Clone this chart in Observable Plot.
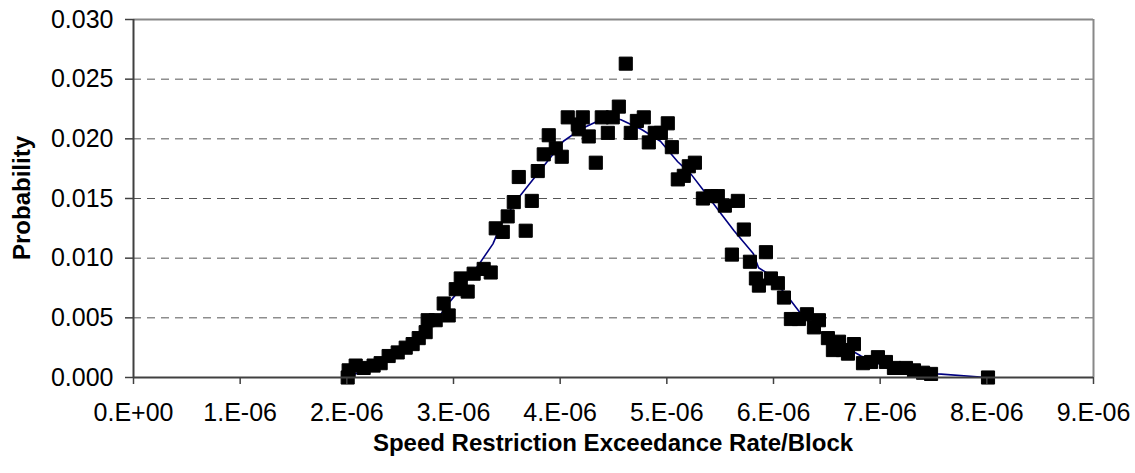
<!DOCTYPE html>
<html><head><meta charset="utf-8">
<script src="https://cdn.jsdelivr.net/npm/d3@7"></script>
<script src="https://cdn.jsdelivr.net/npm/@observablehq/plot@0.6"></script>
<style>
body{margin:0;background:#fff;}
#chart svg{font-family:"Liberation Sans",Arial,sans-serif;}
</style>
</head><body><div id="chart"></div>
<script>
// Observed points: rate (in units of 1e-6 per block) and probability
const pointRate = [2.008,2.017,2.083,2.158,2.251,2.317,2.392,2.477,2.552,2.617,2.674,2.739,2.758,2.833,2.908,2.955,
  3.021,3.068,3.133,3.189,3.283,3.349,3.396,3.462,3.508,3.565,3.612,3.677,3.734,3.790,3.846,3.893,3.959,
  4.015,4.071,4.165,4.174,4.212,4.268,4.334,4.390,4.447,4.493,4.550,4.615,4.662,4.719,4.784,4.831,4.887,4.944,
  5.009,5.047,5.103,5.159,5.206,5.263,5.338,5.413,5.478,5.544,5.610,5.666,5.722,5.779,5.835,5.863,5.929,5.976,
  6.041,6.098,6.163,6.238,6.313,6.379,6.426,6.510,6.557,6.614,6.651,6.698,6.754,6.839,6.914,6.979,
  7.054,7.129,7.242,7.317,7.402,7.477,8.011];
const pointProb = [0.0000,0.0006,0.0010,0.0008,0.0010,0.0012,0.0018,0.0021,0.0025,0.0028,0.0033,0.0038,0.0048,0.0048,0.0062,0.0052,
  0.0074,0.0083,0.0072,0.0087,0.0091,0.0088,0.0125,0.0122,0.0135,0.0147,0.0168,0.0123,0.0148,0.0173,0.0187,0.0203,0.0192,
  0.0185,0.0218,0.0212,0.0208,0.0218,0.0202,0.0180,0.0218,0.0205,0.0218,0.0227,0.0263,0.0205,0.0215,0.0218,0.0197,0.0205,0.0205,
  0.0213,0.0193,0.0166,0.0169,0.0177,0.0180,0.0150,0.0152,0.0152,0.0144,0.0103,0.0148,0.0124,0.0097,0.0083,0.0077,0.0105,0.0083,
  0.0079,0.0067,0.0049,0.0049,0.0053,0.0042,0.0048,0.0033,0.0023,0.0030,0.0023,0.0020,0.0028,0.0012,0.0013,0.0017,
  0.0013,0.0008,0.0008,0.0006,0.0004,0.0003,0.0000];

// Fitted curve
const fitRate = [2.0,2.2,2.4,2.6,2.8,2.97,3.1,3.24,3.37,3.46,3.63,3.79,4.03,4.19,4.38,4.47,4.57,4.76,4.94,5.10,5.23,5.35,5.51,5.63,5.81,5.86,5.95,6.14,6.26,6.44,6.63,6.82,7.0,7.2,7.54,8.0];
const fitProb = [0.0001,0.0006,0.0015,0.0027,0.0043,0.0064,0.0078,0.0095,0.0112,0.0131,0.0153,0.0171,0.0198,0.0208,0.0216,0.0218,0.0216,0.0208,0.0198,0.0181,0.0170,0.0156,0.0137,0.0123,0.0104,0.0092,0.0087,0.0067,0.0053,0.0038,0.0028,0.0018,0.0011,0.0006,0.0003,0.0000];

const xTicks = [0,1,2,3,4,5,6,7,8,9];
const xTickLabels = ["0.E+00","1.E-06","2.E-06","3.E-06","4.E-06","5.E-06","6.E-06","7.E-06","8.E-06","9.E-06"];
const yTicks = [0,0.005,0.010,0.015,0.020,0.025,0.030];
const yTickLabels = ["0.000","0.005","0.010","0.015","0.020","0.025","0.030"];
const yGrid = [0.005,0.010,0.015,0.020,0.025];
const xTitle = "Speed Restriction Exceedance Rate/Block";
const yTitle = "Probability";

const points = pointRate.map((r,i)=>({x:r*1e-6, y:pointProb[i]}));
const fit = fitRate.map((r,i)=>({x:r*1e-6, y:fitProb[i]}));
const xTickVals = xTicks.map(t=>t*1e-6);

const W = 1135, H = 473;
const plot = Plot.plot({
  width: W, height: H,
  marginLeft: 133, marginRight: 42, marginTop: 19, marginBottom: 96,
  style: {background:"#fff", color:"#000", fontFamily:"'Liberation Sans', Arial, sans-serif"},
  x: {domain:[0,9e-6], label:null},
  y: {domain:[0,0.030], label:null},
  marks: [
    Plot.ruleY(yGrid, {stroke:"#555", strokeWidth:1, strokeDasharray:"8,6"}),
    Plot.ruleY([0.030], {stroke:"#888", strokeWidth:2}),
    Plot.ruleX([9e-6], {stroke:"#888", strokeWidth:2}),
    Plot.line(fit, {x:"x", y:"y", stroke:"#000080", strokeWidth:1.6}),
    Plot.dot(points, {x:"x", y:"y", symbol:"square", r:7.4, fill:"#000", stroke:"#000", strokeWidth:1, strokeLinejoin:"round"}),
    Plot.ruleY([0], {stroke:"#404040", strokeWidth:2}),
    Plot.ruleX([0], {stroke:"#404040", strokeWidth:2}),
    Plot.axisX(xTickVals, {tickFormat:(d,i)=>xTickLabels[i], tickSize:7, tickPadding:19, fontSize:25, stroke:"#404040", strokeWidth:1.5, label:null}),
    Plot.axisY(yTicks, {tickFormat:(d,i)=>yTickLabels[i], tickSize:8, tickPadding:12, fontSize:25, stroke:"#404040", strokeWidth:1.5, label:null})
  ]
});

const svg = d3.select(plot);
const xs = plot.scale("x").range, ys = plot.scale("y").range;
svg.append("text")
  .attr("x", (xs[0]+xs[1])/2).attr("y", 451)
  .attr("text-anchor","middle").attr("font-weight","bold").attr("font-size",24).attr("fill","#000")
  .text(xTitle);
svg.append("text")
  .attr("transform", `translate(30,${(ys[0]+ys[1])/2}) rotate(-90)`)
  .attr("text-anchor","middle").attr("font-weight","bold").attr("font-size",24).attr("fill","#000")
  .text(yTitle);
document.getElementById("chart").appendChild(plot);
</script>
</body></html>
